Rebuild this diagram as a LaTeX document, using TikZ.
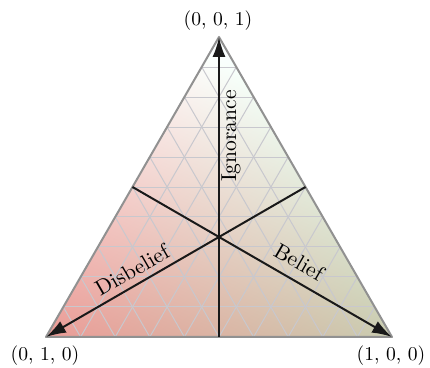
\documentclass[tikz,border=0pt]{standalone}
\usetikzlibrary{arrows.meta,calc}
\pgfdeclarefunctionalshading{bary}{\pgfpoint{-50bp}{-50bp}}{\pgfpoint{50bp}{50bp}}{}{
  2 copy 2 copy
  0.0076 mul exch 0.002 mul add 0.83 add
  5 1 roll
  0.0065 mul exch 0.0038 mul add 0.8675 add
  4 1 roll
  0.0027 mul exch -0.0026 mul add 0.9225 add
  3 1 roll
}
\definecolor{gridc}{RGB}{200,200,206}
\definecolor{edgec}{RGB}{145,145,145}
\tikzset{
  gridline/.style={draw=gridc,line width=0.5pt},
  edgeline/.style={draw=edgec,line width=1pt,line join=round},
  axisline/.style={draw=black!90,line width=1pt,-{Latex[length=10pt,width=6.5pt]}},
  coordlabel/.style={font=\fontsize{9.8}{12}\selectfont,inner sep=0pt},
  axislabel/.style={font=\fontsize{10.8}{13}\selectfont,inner sep=0pt}
}
\begin{document}
\begin{tikzpicture}[x=0.5pt,y=-0.5pt]
\useasboundingbox (0,0) rectangle (430,368);
\coordinate (A) at (46,337);
\coordinate (B) at (392,337);
\coordinate (C) at (219,37);
\shade[shading=bary] (A) -- (B) -- (C) -- cycle;
\foreach \t in {0.1,0.2,...,0.95}{
  \draw[gridline] ($(A)!\t!(C)$) -- ($(B)!\t!(C)$);
  \draw[gridline] ($(A)!\t!(B)$) -- ($(B)!{1-\t}!(C)$);
  \draw[gridline] ($(A)!\t!(B)$) -- ($(A)!\t!(C)$);
}
\draw[edgeline] (A) -- (B) -- (C) -- cycle;
\coordinate (mB) at ($(A)!0.5!(B)$);
\coordinate (mL) at ($(A)!0.5!(C)$);
\coordinate (mR) at ($(B)!0.5!(C)$);
\draw[axisline] (mB) -- (C);
\draw[axisline] (mL) -- (B);
\draw[axisline] (mR) -- (A);
\node[axislabel,rotate=90] (ign) at (231,136) {Ignorance};
\node[axislabel,rotate=30] (dis) at (132,270) {Disbelief};
\node[axislabel,rotate=-30] (bel) at (299,262) {Belief};
\node[coordlabel] (lC) at (218,21) {(0, 0, 1)};
\node[coordlabel] (lA) at (45,356) {(0, 1, 0)};
\node[coordlabel] (lB) at (391,356) {(1, 0, 0)};
\end{tikzpicture}
\end{document}
